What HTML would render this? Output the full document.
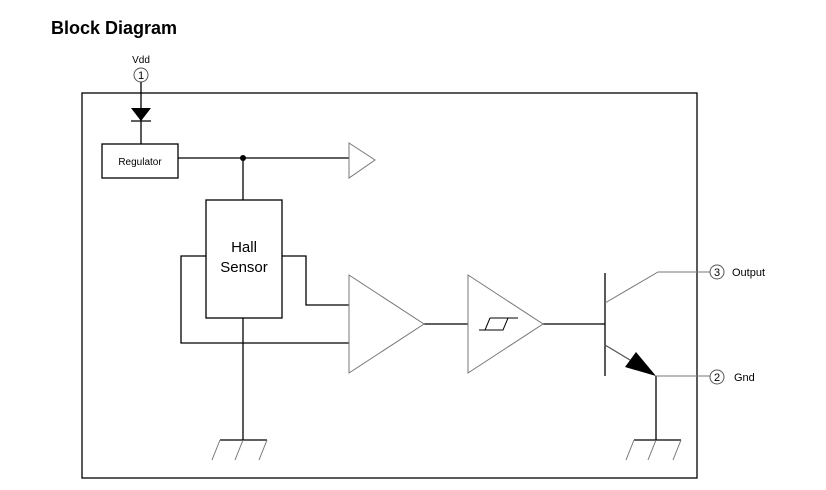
<!DOCTYPE html>
<html><head><style>body{margin:0;background:#fff}svg{display:block}</style></head><body>
<svg width="826" height="490" xmlns="http://www.w3.org/2000/svg" font-family="Liberation Sans, sans-serif">
<text x="51" y="34" font-size="18" font-weight="bold">Block Diagram</text>
<rect x="82" y="93" width="615" height="385" fill="none" stroke="#000" stroke-width="1.3"/>
<text x="141" y="63" font-size="10" text-anchor="middle">Vdd</text>
<circle cx="141" cy="75" r="7" fill="#fff" stroke="#555"/>
<text x="141" y="79" font-size="11" text-anchor="middle">1</text>
<g stroke="#000" stroke-width="1.3" fill="none">
<line x1="141" y1="82" x2="141" y2="144"/>
<line x1="131" y1="121" x2="151" y2="121"/>
<rect x="102" y="144" width="76" height="34"/>
<line x1="178" y1="158" x2="349" y2="158"/>
<line x1="243" y1="158" x2="243" y2="200"/>
<rect x="206" y="200" width="76" height="118"/>
<polyline points="206,256 181,256 181,343 349,343"/>
<polyline points="282,256 306,256 306,305 349,305"/>
<line x1="243" y1="318" x2="243" y2="440"/>
<line x1="220" y1="440" x2="267" y2="440"/>
<line x1="424" y1="324" x2="468" y2="324"/>
<line x1="543" y1="324" x2="605" y2="324"/>
<line x1="605" y1="273" x2="605" y2="376"/>
<line x1="656" y1="376" x2="656" y2="440"/>
<line x1="634" y1="440" x2="681" y2="440"/>
<polyline points="479,330 503,330 508,318 518,318" stroke-width="1"/>
<line x1="490" y1="318" x2="485" y2="330" stroke-width="1"/>
<line x1="490" y1="318" x2="508" y2="318" stroke-width="1"/>
<line x1="605" y1="345" x2="630" y2="360" stroke="#555"/>
</g>
<polygon points="131,108 151,108 141,121" fill="#000"/>
<circle cx="243" cy="158" r="3" fill="#000"/>
<g stroke="#777" stroke-width="1" fill="none">
<line x1="220" y1="440" x2="212" y2="460"/><line x1="243" y1="440" x2="235" y2="460"/><line x1="267" y1="440" x2="259" y2="460"/>
<line x1="634" y1="440" x2="626" y2="460"/><line x1="656" y1="440" x2="648" y2="460"/><line x1="681" y1="440" x2="673" y2="460"/>
<polygon points="349,143 375,160 349,178"/>
<polygon points="349,275 424,324 349,373"/>
<polygon points="468,275 543,324 468,373"/>
<polyline points="605,303 658,272 710,272"/>
<line x1="656" y1="376" x2="710" y2="376"/>
</g>
<polygon points="625,367 636,352 656,376" fill="#000"/>
<circle cx="717" cy="272" r="7" fill="#fff" stroke="#555"/>
<text x="717" y="276" font-size="11" text-anchor="middle">3</text>
<text x="732" y="276" font-size="11">Output</text>
<circle cx="717" cy="377" r="7" fill="#fff" stroke="#555"/>
<text x="717" y="381" font-size="11" text-anchor="middle">2</text>
<text x="734" y="381" font-size="11">Gnd</text>
<text x="140" y="165" font-size="10" text-anchor="middle">Regulator</text>
<text x="244" y="252" font-size="15" text-anchor="middle">Hall</text>
<text x="244" y="272" font-size="15" text-anchor="middle">Sensor</text>
</svg>
</body></html>
